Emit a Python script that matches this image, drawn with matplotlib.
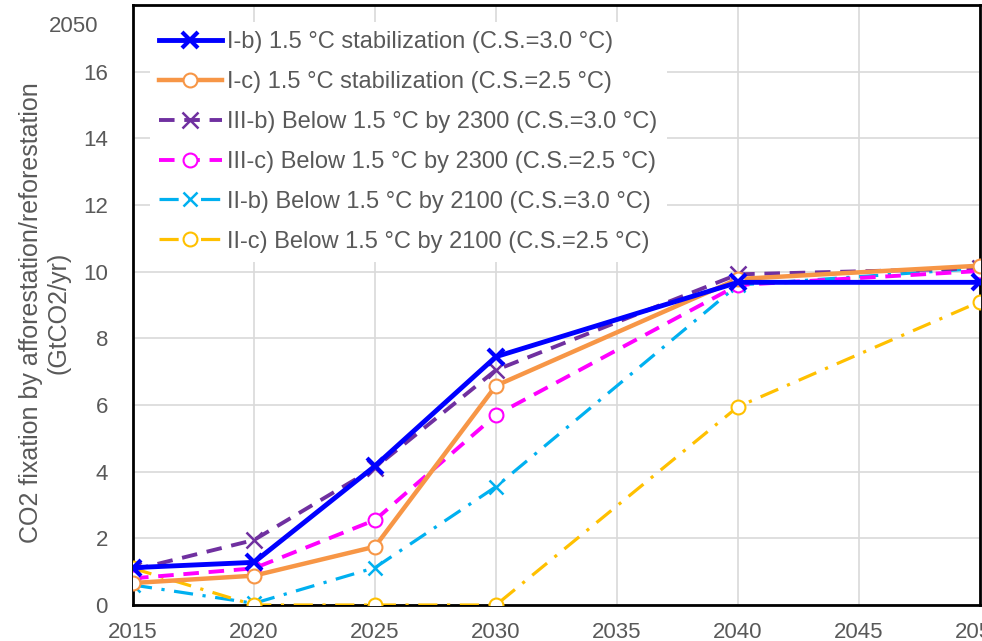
import matplotlib
matplotlib.use("Agg")
import matplotlib.pyplot as plt

plt.rcParams['font.family'] = ['Liberation Sans', 'DejaVu Sans']
plt.rcParams['font.size'] = 16

# data
years = [2015, 2020, 2025, 2030, 2040, 2050]
ib = [1.12, 1.28, 4.17, 7.45, 9.68, 9.68]
ic = [0.66, 0.88, 1.75, 6.58, 9.78, 10.18]
iiib = [1.05, 1.95, 4.12, 7.05, 9.92, 10.1]
iiic = [0.8, 1.1, 2.55, 5.7, 9.6, 10.02]
iib = [0.6, 0.05, 1.12, 3.55, 9.6, 10.1]
iic = [1.1, 0.0, 0.0, 0.0, 5.95, 9.1]

labels = [
    "I-b) 1.5 °C stabilization (C.S.=3.0 °C)",
    "I-c) 1.5 °C stabilization (C.S.=2.5 °C)",
    "III-b) Below 1.5 °C by 2300 (C.S.=3.0 °C)",
    "III-c) Below 1.5 °C by 2300 (C.S.=2.5 °C)",
    "II-b) Below 1.5 °C by 2100 (C.S.=3.0 °C)",
    "II-c) Below 1.5 °C by 2100 (C.S.=2.5 °C)",
]
xticks = [2015, 2020, 2025, 2030, 2035, 2040, 2045, 2050]
yticks = [0, 2, 4, 6, 8, 10, 12, 14, 16]

TXT = '#595959'

fig = plt.figure(figsize=(9.82, 6.41), dpi=100)
ax = fig.add_axes([133 / 982, 36 / 641, 847 / 982, 600 / 641])

ax.plot(years, ib, '-', color='#0000FF', lw=3.5, marker='x', ms=11, mew=3,
        label=labels[0], zorder=6)
ax.plot(years, ic, '-', color='#F79646', lw=3.2, marker='o', ms=10, mew=1.5,
        mfc='white', label=labels[1], zorder=5)
ax.plot(years, iiib, '--', color='#7030A0', lw=2.8, marker='x', ms=11, mew=1.8,
        dashes=(4, 2.5), label=labels[2], zorder=4)
ax.plot(years, iiic, '--', color='#FF00FF', lw=2.8, marker='o', ms=10, mew=1.5,
        mfc='white', dashes=(4, 2.5), label=labels[3], zorder=4)
ax.plot(years, iib, '-.', color='#00B0F0', lw=2.3, marker='x', ms=10, mew=1.8,
        dashes=(6, 3, 1, 3), label=labels[4], zorder=3)
ax.plot(years, iic, '-.', color='#FFC000', lw=2.3, marker='o', ms=10, mew=1.5,
        mfc='white', dashes=(6, 3, 1, 3), label=labels[5], zorder=3)

ax.set_xlim(2015, 2050)
ax.set_ylim(0, 18)
ax.set_xticks(xticks)
ax.set_yticks(yticks)
ax.grid(True, color='#D9D9D9', lw=1.2)
ax.set_axisbelow(True)
ax.tick_params(length=0, labelcolor=TXT, labelsize=16)
ax.tick_params(axis='y', pad=18)
ax.tick_params(axis='x', pad=12)
for s in ax.spines.values():
    s.set_color('black')
    s.set_linewidth(2)

fig.text(45 / 982, 1 - 313 / 641,
         "CO2 fixation by afforestation/reforestation\n(GtCO2/yr)",
         rotation=90, ha='center', va='center', ma='center',
         color=TXT, fontsize=18, linespacing=1.2)
fig.text(98 / 982, 1 - 26 / 641, "2050", color=TXT, fontsize=16,
         ha='right', va='center')

leg = ax.legend(loc='upper left', bbox_to_anchor=(0.0, 1.0), frameon=True,
                facecolor='white', edgecolor='none', framealpha=1,
                fontsize=17, handlelength=2.65, labelspacing=0.76,
                handletextpad=0.25, borderaxespad=0.7, borderpad=0.4)
for t in leg.get_texts():
    t.set_color(TXT)

fig.savefig("out.png", dpi=100)
